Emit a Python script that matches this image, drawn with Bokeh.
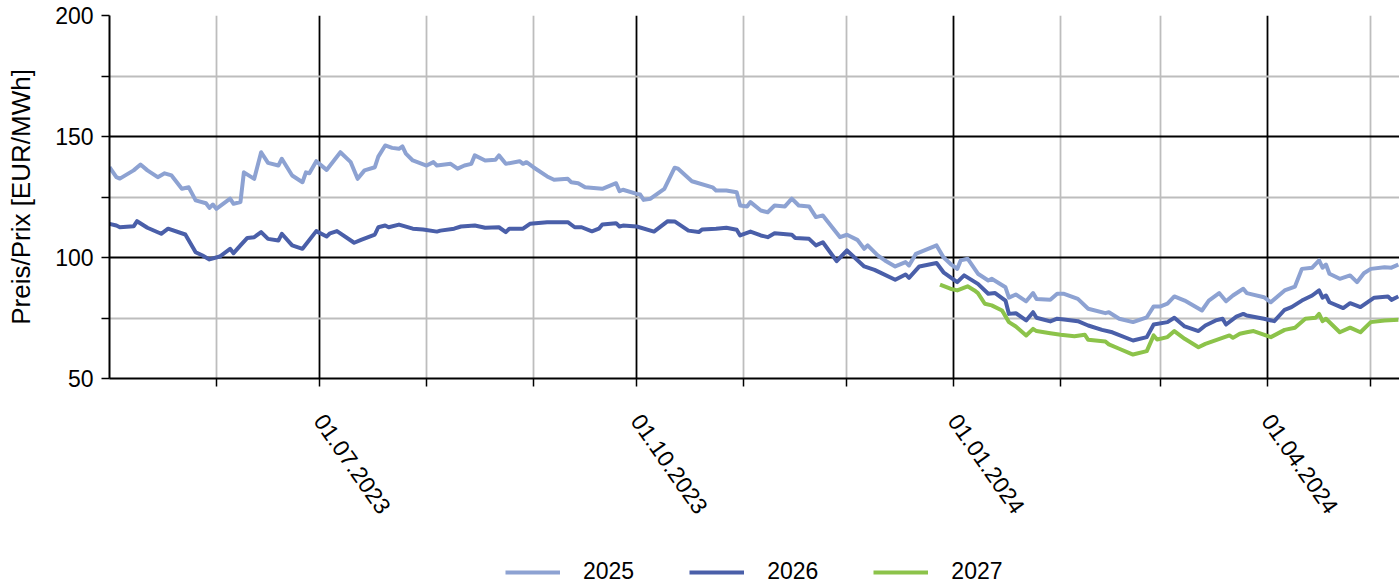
import math
import numpy as np
from bokeh.plotting import figure
from bokeh.layouts import column
from bokeh.models import (ColumnDataSource, Range1d, FixedTicker, Legend, LegendItem,
                          DatetimeTickFormatter)
from bokeh.embed import file_html
from bokeh.resources import INLINE

# ---------------- data ----------------
dates_2025 = ["2023-05-01","2023-05-03","2023-05-04","2023-05-08","2023-05-10","2023-05-12","2023-05-15",
    "2023-05-17","2023-05-19","2023-05-22","2023-05-24","2023-05-26","2023-05-29","2023-05-30","2023-05-31",
    "2023-06-01","2023-06-05","2023-06-06","2023-06-08","2023-06-09","2023-06-12","2023-06-14","2023-06-16",
    "2023-06-19","2023-06-20","2023-06-23","2023-06-26","2023-06-27","2023-06-28","2023-06-30","2023-07-03",
    "2023-07-07","2023-07-10","2023-07-12","2023-07-14","2023-07-17","2023-07-18","2023-07-20","2023-07-22",
    "2023-07-24","2023-07-25","2023-07-26","2023-07-28","2023-08-01","2023-08-03","2023-08-04","2023-08-08",
    "2023-08-10","2023-08-12","2023-08-14","2023-08-15","2023-08-18","2023-08-21","2023-08-22","2023-08-24",
    "2023-08-28","2023-08-29","2023-08-30","2023-09-01","2023-09-05","2023-09-07","2023-09-11","2023-09-12",
    "2023-09-14","2023-09-16","2023-09-21","2023-09-25","2023-09-26","2023-09-27","2023-10-01","2023-10-02",
    "2023-10-03","2023-10-05","2023-10-09","2023-10-12","2023-10-13","2023-10-17","2023-10-18","2023-10-23",
    "2023-10-24","2023-10-27","2023-10-30","2023-10-31","2023-11-02","2023-11-03","2023-11-06","2023-11-08",
    "2023-11-10","2023-11-13","2023-11-15","2023-11-17","2023-11-20","2023-11-22","2023-11-24","2023-11-29",
    "2023-12-01","2023-12-04","2023-12-06","2023-12-07","2023-12-10","2023-12-12","2023-12-15","2023-12-18",
    "2023-12-19","2023-12-21","2023-12-27","2023-12-29","2023-12-31","2024-01-02","2024-01-03","2024-01-05",
    "2024-01-08","2024-01-11","2024-01-12","2024-01-16","2024-01-17","2024-01-19","2024-01-22","2024-01-24",
    "2024-01-25","2024-01-29","2024-01-31","2024-02-02","2024-02-06","2024-02-09","2024-02-14","2024-02-15",
    "2024-02-18","2024-02-22","2024-02-26","2024-02-28","2024-03-01","2024-03-03","2024-03-05","2024-03-08",
    "2024-03-13","2024-03-15","2024-03-18","2024-03-20","2024-03-22","2024-03-25","2024-03-26","2024-03-31",
    "2024-04-02","2024-04-06","2024-04-09","2024-04-11","2024-04-14","2024-04-16","2024-04-17","2024-04-18",
    "2024-04-19","2024-04-22","2024-04-25","2024-04-27","2024-04-29","2024-05-01","2024-05-05","2024-05-07",
    "2024-05-09"]
values_2025 = [137.3,133.2,132.6,136.0,138.4,136.0,133.2,134.8,133.9,128.4,129.0,123.6,122.4,120.5,121.9,
    120.1,124.3,122.2,122.9,135.2,132.5,143.5,139.1,138.0,140.8,133.9,131.1,135.2,134.8,139.8,136.2,
    143.5,139.4,132.5,136.0,137.3,141.7,146.3,145.3,144.9,145.9,142.9,140.1,138.0,139.4,138.0,138.7,
    136.7,138.0,138.7,142.2,140.1,140.4,142.2,138.7,139.8,138.7,139.4,137.3,133.5,132.1,132.5,131.1,
    130.7,129.0,128.4,130.7,127.4,128.0,126.3,126.0,123.8,124.3,128.4,137.1,136.7,131.5,131.1,129.0,
    127.7,127.7,127.0,121.5,121.1,122.9,119.4,118.7,121.5,121.1,124.3,121.5,121.1,116.7,117.4,108.4,
    109.4,107.3,103.6,105.0,100.8,98.8,96.3,98.1,96.7,101.5,105.0,100.1,97.4,95.3,98.8,99.5,
    93.3,90.5,91.2,87.7,83.4,84.7,81.9,85.3,82.9,82.5,85.0,85.0,82.9,78.8,77.0,77.4,
    74.7,73.3,75.3,79.8,79.8,80.9,83.9,82.2,78.1,82.2,85.3,81.9,84.3,87.1,85.3,83.6,
    81.5,86.4,88.0,95.3,95.8,98.8,95.8,97.1,93.3,91.2,92.6,89.8,93.5,95.3,96.0,95.8,97.1]

dates_2026 = ["2023-05-01","2023-05-03","2023-05-04","2023-05-08","2023-05-09","2023-05-12","2023-05-16",
    "2023-05-18","2023-05-23","2023-05-26","2023-05-28","2023-05-30","2023-06-02","2023-06-05","2023-06-06",
    "2023-06-08","2023-06-10","2023-06-12","2023-06-14","2023-06-16","2023-06-19","2023-06-20","2023-06-23",
    "2023-06-26","2023-06-30","2023-07-03","2023-07-04","2023-07-06","2023-07-11","2023-07-13","2023-07-17",
    "2023-07-18","2023-07-20","2023-07-21","2023-07-24","2023-07-28","2023-07-31","2023-08-04","2023-08-05",
    "2023-08-09","2023-08-11","2023-08-15","2023-08-18","2023-08-22","2023-08-24","2023-08-25","2023-08-29",
    "2023-08-31","2023-09-05","2023-09-11","2023-09-13","2023-09-15","2023-09-18","2023-09-20","2023-09-21",
    "2023-09-25","2023-09-26","2023-09-27","2023-10-01","2023-10-06","2023-10-10","2023-10-12","2023-10-16",
    "2023-10-19","2023-10-20","2023-10-24","2023-10-27","2023-10-30","2023-10-31","2023-11-03","2023-11-06",
    "2023-11-08","2023-11-10","2023-11-15","2023-11-16","2023-11-20","2023-11-22","2023-11-24","2023-11-28",
    "2023-12-01","2023-12-06","2023-12-09","2023-12-15","2023-12-18","2023-12-19","2023-12-22","2023-12-27",
    "2023-12-29","2024-01-02","2024-01-04","2024-01-08","2024-01-11","2024-01-13","2024-01-16","2024-01-17",
    "2024-01-19","2024-01-22","2024-01-24","2024-01-25","2024-01-29","2024-01-31","2024-02-02","2024-02-06",
    "2024-02-09","2024-02-13","2024-02-16","2024-02-22","2024-02-26","2024-02-28","2024-03-03","2024-03-05",
    "2024-03-08","2024-03-12","2024-03-14","2024-03-17","2024-03-19","2024-03-20","2024-03-23","2024-03-25",
    "2024-03-26","2024-03-31","2024-04-03","2024-04-06","2024-04-08","2024-04-11","2024-04-14","2024-04-16",
    "2024-04-17","2024-04-18","2024-04-19","2024-04-23","2024-04-25","2024-04-28","2024-05-02","2024-05-06",
    "2024-05-07","2024-05-09"]
values_2026 = [113.9,113.2,112.5,112.9,115.0,112.3,109.8,111.9,109.5,102.2,100.8,99.2,100.4,103.6,101.8,
    105.0,108.1,108.4,110.5,107.7,107.0,109.8,105.0,103.6,110.9,108.7,110.0,110.9,106.1,107.3,109.5,
    112.5,113.2,112.5,113.6,111.9,111.6,110.7,111.1,111.9,112.8,113.2,112.3,112.5,110.5,111.9,111.9,
    113.9,114.6,114.6,112.5,112.5,110.8,111.9,113.6,114.2,112.8,113.2,112.8,110.7,115.0,114.9,111.1,
    110.5,111.6,111.9,112.3,111.5,109.1,110.7,109.1,108.4,110.0,109.4,108.1,107.7,105.0,106.3,98.5,
    102.9,96.3,94.9,90.8,93.0,91.6,96.3,97.7,93.9,89.8,92.6,89.1,85.0,85.3,82.2,76.7,
    77.0,74.0,77.4,75.1,73.6,74.7,74.4,73.7,71.9,70.1,69.1,65.7,67.1,72.3,73.3,75.1,
    71.5,69.6,71.9,74.0,74.7,72.3,75.6,76.7,76.0,74.7,73.7,78.4,79.5,82.2,84.3,86.4,
    83.4,84.3,81.5,79.1,81.1,79.5,83.4,83.9,82.5,83.9]

dates_2027 = ["2023-12-28","2023-12-31","2024-01-02","2024-01-05","2024-01-07","2024-01-08","2024-01-10",
    "2024-01-12","2024-01-15","2024-01-17","2024-01-19","2024-01-22","2024-01-24","2024-01-25","2024-01-29",
    "2024-02-01","2024-02-05","2024-02-08","2024-02-09","2024-02-14","2024-02-15","2024-02-18","2024-02-22",
    "2024-02-26","2024-02-28","2024-02-29","2024-03-03","2024-03-05","2024-03-08","2024-03-12","2024-03-14",
    "2024-03-21","2024-03-22","2024-03-24","2024-03-26","2024-03-28","2024-04-02","2024-04-06","2024-04-09",
    "2024-04-12","2024-04-15","2024-04-16","2024-04-17","2024-04-18","2024-04-22","2024-04-25","2024-04-28",
    "2024-05-01","2024-05-05","2024-05-09"]
values_2027 = [88.8,87.1,86.4,88.1,86.4,85.3,80.9,80.2,78.1,73.3,71.5,67.8,70.5,69.6,68.7,
    68.1,67.5,68.1,66.0,65.3,64.1,62.3,59.9,61.3,67.8,66.1,67.1,69.6,66.4,62.9,64.3,
    67.8,66.8,68.5,69.1,69.6,67.1,70.1,71.0,74.7,75.1,76.7,73.7,74.7,69.1,71.0,69.1,
    73.3,74.0,74.3]

series_names = ["2025", "2026", "2027"]
series_colors = ["#8DA2D2", "#4A5FA9", "#8CC34A"]

quarter_ticks = ["2023-07-01", "2023-10-01", "2024-01-01", "2024-04-01"]
month_ticks = ["2023-06-01", "2023-08-01", "2023-09-01", "2023-11-01", "2023-12-01",
               "2024-02-01", "2024-03-01", "2024-05-01"]
y_major = [50, 100, 150, 200]
y_minor = [75, 125, 175]
x_start, x_end = "2023-05-01T00:00", "2024-05-09T08:00"
y_label = "Preis/Prix [EUR/MWh]"


def ms(d):
    return float((np.datetime64(d) - np.datetime64("1970-01-01T00:00")) / np.timedelta64(1, "ms"))


FONT = "Liberation Sans"

sources = [ColumnDataSource(dict(x=np.array(d, dtype="datetime64[ms]"), y=v))
           for d, v in [(dates_2025, values_2025), (dates_2026, values_2026), (dates_2027, values_2027)]]

# ---------------- main chart ----------------
p = figure(width=1399, height=556, x_axis_type="datetime",
           output_backend="svg", toolbar_location=None,
           x_range=Range1d(ms(x_start), ms(x_end)), y_range=Range1d(50, 200),
           min_border_left=109, min_border_right=0, min_border_top=15, min_border_bottom=178)
p.outline_line_color = None
p.background_fill_color = "white"
p.border_fill_color = "white"

for src, col in zip(sources, series_colors):
    p.line("x", "y", source=src, line_color=col, line_width=4, line_join="round")

p.xaxis.ticker = FixedTicker(ticks=[ms(d) for d in quarter_ticks],
                             minor_ticks=[ms(d) for d in month_ticks])
fmt = "%d.%m.%Y"
p.xaxis.formatter = DatetimeTickFormatter(microseconds=fmt, milliseconds=fmt, seconds=fmt, minsec=fmt,
                                          minutes=fmt, hourmin=fmt, hours=fmt, days=fmt,
                                          months=fmt, years=fmt)
p.xaxis.major_label_orientation = math.radians(-55)
p.yaxis.ticker = FixedTicker(ticks=y_major, minor_ticks=y_minor)
p.yaxis.axis_label = y_label

for ax in [p.xaxis[0], p.yaxis[0]]:
    ax.axis_line_color = "black"
    ax.axis_line_width = 2
    ax.major_tick_line_color = "black"
    ax.minor_tick_line_color = "black"
    ax.major_tick_line_width = 1.5
    ax.minor_tick_line_width = 1.5
    ax.major_tick_in = 0
    ax.major_tick_out = 8
    ax.minor_tick_in = 0
    ax.minor_tick_out = 8
    ax.major_label_text_font = FONT
    ax.major_label_text_color = "black"

p.xaxis.major_label_text_font_size = "23px"
p.yaxis.major_label_text_font_size = "23px"
p.xaxis.major_label_standoff = 30
p.yaxis.major_label_standoff = 8
p.yaxis.axis_label_text_font = FONT
p.yaxis.axis_label_text_font_size = "26px"
p.yaxis.axis_label_text_font_style = "normal"
p.yaxis.axis_label_text_color = "black"
p.yaxis.axis_label_standoff = 16

for g in [p.xgrid[0], p.ygrid[0]]:
    g.grid_line_color = "black"
    g.grid_line_width = 1.8
    g.minor_grid_line_color = "#BDBDBD"
    g.minor_grid_line_width = 1.8

# ---------------- legend strip below the chart ----------------
# same series, drawn in a strip whose ranges keep the lines out of view: only the legend shows
lg = figure(width=1399, height=30, output_backend="svg", toolbar_location=None,
            x_range=Range1d(0, 1), y_range=Range1d(0, 1),
            x_axis_location=None, y_axis_location=None, min_border=0)
lg.outline_line_color = None
lg.grid.visible = False
proxies = [lg.line("x", "y", source=src, line_color=c, line_width=4)
           for src, c in zip(sources, series_colors)]

legend = Legend(items=[LegendItem(label=n, renderers=[r]) for n, r in zip(series_names, proxies)],
                orientation="horizontal", location=(396, 1))
legend.border_line_color = None
legend.background_fill_alpha = 0
legend.glyph_width = 55
legend.glyph_height = 26
legend.label_standoff = 23
legend.spacing = 55
legend.padding = 0
legend.margin = 0
legend.label_text_font = FONT
legend.label_text_font_size = "23px"
legend.label_text_color = "black"
lg.add_layout(legend, "center")

layout = column(p, lg, spacing=0)
open("out.html", "w").write(file_html(layout, INLINE))
